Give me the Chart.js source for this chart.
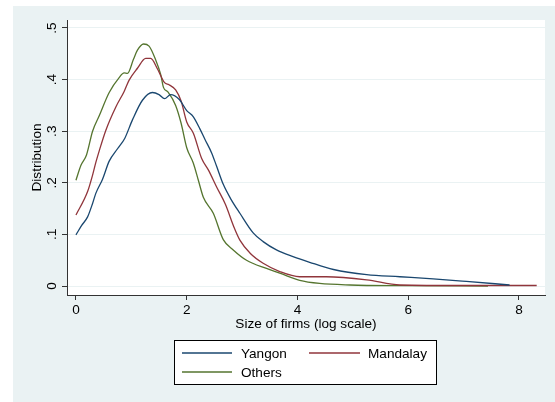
<!DOCTYPE html>
<html>
<head>
<meta charset="utf-8">
<script src="https://cdn.jsdelivr.net/npm/chart.js@4"></script>
<style>
  html, body { margin: 0; padding: 0; background: #ffffff; }
  #wrap { width: 555px; height: 402px; }
</style>
</head>
<body>
<div id="wrap"><canvas id="mychart" width="555" height="402"></canvas></div>
<script>
const seriesNames = ['Yangon', 'Mandalay', 'Others'];
const seriesColors = ['#1a476f', '#90353b', '#55752f'];

const yangonX = [0, 0.1, 0.21, 0.3, 0.36, 0.48, 0.6, 0.75, 0.88, 1.02, 1.2, 1.38, 1.5, 1.6, 1.71, 1.87, 2.0, 2.12, 2.24, 2.33, 2.45, 2.54, 2.66, 2.8, 2.96, 3.2, 3.38, 3.62, 3.92, 4.22, 4.65, 5.25, 5.85, 6.45, 7.05, 7.83];
const yangonY = [0.099, 0.117, 0.134, 0.160, 0.180, 0.207, 0.242, 0.266, 0.286, 0.322, 0.360, 0.375, 0.371, 0.363, 0.371, 0.361, 0.340, 0.328, 0.304, 0.284, 0.258, 0.232, 0.197, 0.168, 0.141, 0.103, 0.086, 0.070, 0.057, 0.046, 0.032, 0.022, 0.018, 0.014, 0.009, 0.002];

const mandalayX = [0, 0.21, 0.3, 0.36, 0.42, 0.54, 0.72, 0.87, 0.96, 1.11, 1.26, 1.35, 1.47, 1.6, 1.68, 1.8, 1.9, 2.0, 2.12, 2.27, 2.39, 2.54, 2.7, 2.85, 2.96, 3.15, 3.38, 3.68, 4.04, 4.52, 5.25, 5.85, 7.0, 8.32];
const mandalayY = [0.1375, 0.183, 0.215, 0.240, 0.262, 0.302, 0.347, 0.377, 0.399, 0.422, 0.441, 0.441, 0.421, 0.394, 0.390, 0.380, 0.358, 0.318, 0.296, 0.247, 0.225, 0.192, 0.158, 0.115, 0.089, 0.063, 0.044, 0.028, 0.018, 0.018, 0.012, 0.002, 0.001, 0.001];

const othersX = [0, 0.09, 0.19, 0.3, 0.42, 0.6, 0.78, 0.87, 0.93, 1.04, 1.11, 1.22, 1.32, 1.44, 1.53, 1.58, 1.66, 1.8, 1.9, 2.0, 2.12, 2.21, 2.3, 2.48, 2.66, 2.84, 3.08, 3.44, 3.68, 4.04, 4.4, 4.95, 5.85, 7.44];
const othersY = [0.205, 0.234, 0.254, 0.300, 0.330, 0.375, 0.404, 0.413, 0.412, 0.440, 0.457, 0.469, 0.465, 0.438, 0.410, 0.385, 0.376, 0.350, 0.315, 0.268, 0.238, 0.205, 0.172, 0.141, 0.090, 0.070, 0.050, 0.034, 0.025, 0.011, 0.005, 0.002, 0.0006, 0];

const xTicks = [0, 2, 4, 6, 8];
const yTicks = [0, 0.1, 0.2, 0.3, 0.4, 0.5];
const yTickLabels = ['0', '.1', '.2', '.3', '.4', '.5'];

const FONT = "'Liberation Sans', Arial, sans-serif";
const BG = '#eaf2f3';

function pts(xs, ys) {
    return xs.map((x, i) => ({x: x, y: ys[i]}));
}

const background = {
    id: 'background',
    beforeDraw(chart) {
        const c = chart.ctx, a = chart.chartArea;
        c.save();
        c.fillStyle = '#ffffff';
        c.fillRect(0, 0, chart.width, chart.height);
        c.fillStyle = BG;
        c.fillRect(13, 6, chart.width - 13, chart.height - 6);
        c.fillStyle = '#ffffff';
        c.fillRect(a.left, a.top, a.right - a.left, a.bottom - a.top);
        c.restore();
    }
};

// stata style legend box under the x title
const boxLegend = {
    id: 'boxLegend',
    afterDraw(chart) {
        const c = chart.ctx;
        const items = [
            {line: [182, 232], tx: 241, y: 353},
            {line: [309, 360], tx: 368, y: 353},
            {line: [182, 232], tx: 241, y: 372},
        ];
        c.save();
        c.fillStyle = '#ffffff';
        c.fillRect(174, 340, 262, 44);
        c.strokeStyle = '#000000';
        c.lineWidth = 1;
        c.strokeRect(174.5, 340.5, 262, 44);
        c.font = '13.6px ' + FONT;
        c.textBaseline = 'middle';
        c.textAlign = 'left';
        chart.data.datasets.forEach((ds, i) => {
            const it = items[i];
            c.strokeStyle = ds.borderColor;
            c.lineWidth = 1.3;
            c.beginPath();
            c.moveTo(it.line[0], it.y);
            c.lineTo(it.line[1], it.y);
            c.stroke();
            c.fillStyle = '#000000';
            c.fillText(ds.label, it.tx, it.y + 1);
        });
        c.restore();
    }
};

const ctx = document.getElementById('mychart');
var chart = new Chart(ctx, {
    type: 'line',
    data: {
        datasets: [
            {label: seriesNames[0], data: pts(yangonX, yangonY), borderColor: seriesColors[0]},
            {label: seriesNames[1], data: pts(mandalayX, mandalayY), borderColor: seriesColors[1]},
            {label: seriesNames[2], data: pts(othersX, othersY), borderColor: seriesColors[2]},
        ],
    },
    options: {
        responsive: false,
        animation: false,
        elements: {
            point: {radius: 0},
            line: {borderWidth: 1.3, cubicInterpolationMode: 'monotone', fill: false},
        },
        layout: {
            padding: {left: 13, top: 20, right: 10, bottom: 0},
        },
        scales: {
            x: {
                type: 'linear',
                min: -0.162,
                max: 8.47,
                afterBuildTicks: s => { s.ticks = xTicks.map(v => ({value: v})); },
                afterFit: s => { s.height = 107; },
                grid: {
                    drawOnChartArea: false,
                    tickLength: 5,
                    tickColor: '#333333',
                },
                border: {color: '#333333', width: 1},
                ticks: {
                    padding: 2,
                    color: '#000000',
                    font: {size: 13.6, family: FONT},
                    maxRotation: 0,
                },
                title: {
                    display: true,
                    text: 'Size of firms (log scale)',
                    color: '#000000',
                    font: {size: 13.6, family: FONT},
                    padding: {top: 0, bottom: 70},
                },
            },
            y: {
                type: 'linear',
                min: -0.0174,
                max: 0.5155,
                afterBuildTicks: s => { s.ticks = yTicks.map(v => ({value: v})); },
                afterFit: s => { s.width = 54; },
                grid: {
                    color: BG,
                    tickLength: 5,
                    tickColor: '#333333',
                },
                border: {color: '#333333', width: 1},
                ticks: {
                    padding: 4,
                    color: '#000000',
                    font: {size: 13.6, family: FONT},
                    minRotation: 90,
                    maxRotation: 90,
                    crossAlign: 'center',
                    callback: (v) => yTickLabels[yTicks.indexOf(v)],
                },
                title: {
                    display: true,
                    text: 'Distribution',
                    color: '#000000',
                    font: {size: 13.6, family: FONT},
                    padding: {top: 16, bottom: 0},
                },
            },
        },
        plugins: {
            legend: {display: false},
            tooltip: {enabled: false},
        },
    },
    plugins: [background, boxLegend],
});
</script>
</body>
</html>
